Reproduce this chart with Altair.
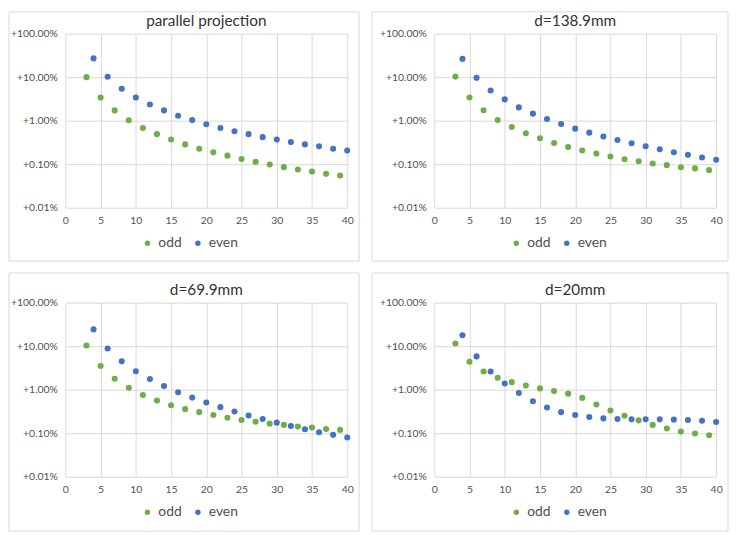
import altair as alt
import pandas as pd

# ---- data (percent values) ----
n_odd = [3, 5, 7, 9, 11, 13, 15, 17, 19, 21, 23, 25, 27, 29, 31, 33, 35, 37, 39]
n_even = [4, 6, 8, 10, 12, 14, 16, 18, 20, 22, 24, 26, 28, 30, 32, 34, 36, 38, 40]

titles = ["parallel projection", "d=138.9mm", "d=69.9mm", "d=20mm"]

par_odd = [10.0, 3.39, 1.72, 1.02, 0.68, 0.49, 0.37, 0.285, 0.227, 0.187, 0.157, 0.132,
           0.113, 0.098, 0.0855, 0.0757, 0.068, 0.060, 0.055]
par_even = [27.0, 10.2, 5.4, 3.39, 2.35, 1.72, 1.30, 1.03, 0.826, 0.68, 0.573, 0.49,
            0.418, 0.37, 0.322, 0.285, 0.257, 0.227, 0.205]

d139_odd = [10.3, 3.42, 1.73, 1.03, 0.716, 0.513, 0.394, 0.308, 0.249, 0.206, 0.175, 0.15,
            0.130, 0.117, 0.1035, 0.095, 0.085, 0.080, 0.073]
d139_even = [26.3, 9.65, 4.95, 3.08, 2.02, 1.45, 1.09, 0.84, 0.656, 0.531, 0.43, 0.36,
             0.303, 0.258, 0.221, 0.188, 0.164, 0.142, 0.126]

d70_odd = [10.4, 3.51, 1.78, 1.11, 0.757, 0.562, 0.44, 0.357, 0.305, 0.261, 0.227, 0.201,
           0.184, 0.166, 0.155, 0.142, 0.135, 0.125, 0.119]
d70_even = [24.3, 8.85, 4.48, 2.66, 1.75, 1.21, 0.87, 0.658, 0.507, 0.397, 0.316, 0.256,
            0.212, 0.175, 0.147, 0.123, 0.105, 0.0916, 0.0798]

d20_odd = [11.5, 4.4, 2.61, 1.87, 1.49, 1.25, 1.07, 0.933, 0.811, 0.647, 0.456, 0.333,
           0.252, 0.197, 0.155, 0.128, 0.109, 0.0983, 0.090]
d20_even = [17.8, 5.82, 2.61, 1.39, 0.84, 0.543, 0.39, 0.305, 0.261, 0.235, 0.219, 0.212,
            0.208, 0.208, 0.208, 0.205, 0.201, 0.194, 0.181]

series = [(par_odd, par_even), (d139_odd, d139_even), (d70_odd, d70_even), (d20_odd, d20_even)]

GREEN = "#70AD47"
BLUE = "#4472C4"
GRID = "#d9d9d9"
FONT = "Lato"

W, H = 285, 176

# border box extents around each plot area (left, top, right, bottom), in pixels
frames = [(-57, -22, 12, 54), (-63, -22, 12, 54), (-57, -30, 12, 55), (-63, -30, 12, 55)]


def panel(title, odd, even, frame):
    fl, ft, fr, fb = frame
    df = pd.DataFrame({
        "n": n_odd + n_even,
        "value": odd + even,
        "parity": ["odd"] * len(n_odd) + ["even"] * len(n_even),
    })
    pts = alt.Chart(df).mark_circle(size=38, opacity=1).encode(
        x=alt.X("n:Q",
                scale=alt.Scale(domain=[0, 40], nice=False),
                axis=alt.Axis(values=[0, 5, 10, 15, 20, 25, 30, 35, 40], title=None,
                              ticks=False, domain=False, grid=True, gridColor=GRID,
                              labelFontSize=10.5, labelColor="#505050", labelFont=FONT,
                              labelPadding=8, labelFlush=False)),
        y=alt.Y("value:Q",
                scale=alt.Scale(type="log", domain=[0.01, 100], nice=False),
                axis=alt.Axis(values=[0.01, 0.1, 1, 10, 100], title=None,
                              ticks=False, domain=False, grid=True, gridColor=GRID,
                              labelFontSize=10.5, labelColor="#505050", labelFont=FONT,
                              labelPadding=8,
                              labelExpr="'+' + format(datum.value, '.2f') + '%'")),
        color=alt.Color("parity:N",
                        scale=alt.Scale(domain=["odd", "even"], range=[GREEN, BLUE]),
                        legend=alt.Legend(orient="none", legendX=76, legendY=205,
                                          direction="horizontal", title=None,
                                          symbolType="circle", symbolSize=30,
                                          labelFontSize=14, labelFont=FONT,
                                          labelColor="#505050", labelOffset=4,
                                          columnPadding=9, padding=0)),
    )
    border = alt.Chart(pd.DataFrame({"b": [0]})).mark_rect(
        fillOpacity=0, stroke=GRID, strokeWidth=1
    ).encode(x=alt.value(fl), x2=alt.value(W + fr), y=alt.value(ft), y2=alt.value(H + fb))
    ttl = alt.Chart(pd.DataFrame({"t": [title]})).mark_text(
        fontSize=15.5, font=FONT, color="#333333", align="center", baseline="alphabetic"
    ).encode(text="t:N", x=alt.value(W / 2), y=alt.value(-8))
    return alt.layer(border, pts, ttl).properties(width=W, height=H)


panels = [panel(t, o, e, f) for t, (o, e), f in zip(titles, series, frames)]

chart = alt.concat(*panels, columns=2, spacing={"row": 10, "column": 11}).resolve_legend(
    color="independent"
).properties(padding=0).configure_view(stroke=None)

chart.save("out.html", embed_options={"renderer": "svg", "actions": False})
